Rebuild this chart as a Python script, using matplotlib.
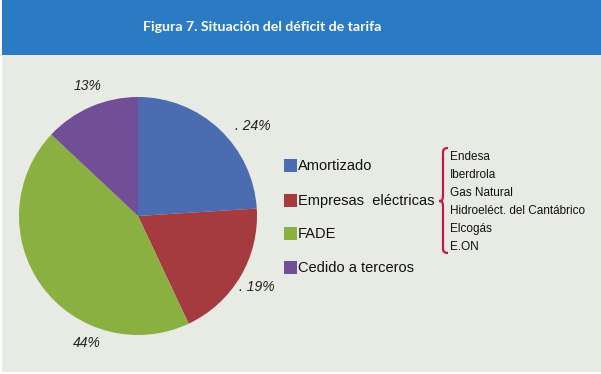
import matplotlib.pyplot as plt
from matplotlib.patches import Rectangle, PathPatch
from matplotlib.path import Path

# Datos de la figura
categorias = ['Amortizado', 'Empresas  eléctricas', 'FADE', 'Cedido a terceros']
valores = [24, 19, 44, 13]
colores = ['#4B6CB0', '#A53A3F', '#8BB042', '#724E96']
empresas = ['Endesa', 'Iberdrola', 'Gas Natural', 'Hidroeléct. del Cantábrico',
            'Elcogás', 'E.ON']
titulo = 'Figura 7. Situación del déficit de tarifa'

W, H = 601, 374
fig = plt.figure(figsize=(W / 100, H / 100), dpi=100)
fig.patch.set_facecolor('white')

# Capa de fondo en pixeles
bg = fig.add_axes([0, 0, 1, 1])
bg.set_xlim(0, W)
bg.set_ylim(H, 0)
bg.axis('off')

bg.add_patch(Rectangle((2, 55), W - 2, 317, facecolor='#E8EBE4', edgecolor='none'))
bg.add_patch(Rectangle((2, 0), W - 2, 55, facecolor='#2B7BC4', edgecolor='none'))
bg.text(262, 27, titulo, color='white', fontsize=10.2, fontweight='bold',
        family=['Lato', 'DejaVu Sans'], ha='center', va='center')

# Tarta
cx, cy, r = 138, 216, 119
ax = fig.add_axes([(cx - r) / W, (H - cy - r) / H, 2 * r / W, 2 * r / H])
ax.pie(valores, colors=colores, startangle=90, counterclock=False,
       wedgeprops=dict(linewidth=0))
ax.set_xlim(-1, 1)
ax.set_ylim(-1, 1)
ax.axis('off')

# Etiquetas de porcentaje (posicion, alineacion, con punto de guia)
etiq_pos = [(235, 126, 'left', True), (239, 287, 'left', True),
            (87, 343, 'center', False), (88, 86, 'center', False)]
for v, (x, y, ha, punto) in zip(valores, etiq_pos):
    txt = ('. ' if punto else '') + f'{v}%'
    bg.text(x, y, txt, fontsize=10, style='italic', color='#222222',
            family=['Liberation Sans', 'DejaVu Sans'], ha=ha, va='center')

# Leyenda
ley_y = [165, 200, 233, 267]
fuente = ['Liberation Sans', 'DejaVu Sans']
for cat, col, y in zip(categorias, colores, ley_y):
    bg.add_patch(Rectangle((284, y - 6.5), 13, 13, facecolor=col, edgecolor='none'))
    bg.text(298, y + 0.5, cat, fontsize=10.5, family=fuente, color='#111111',
            ha='left', va='center')

# Llave
bx, top, bot, mid = 448, 148, 253, 201
verts = [(bx, top), (443, top), (443, top + 4), (443, mid - 8),
         (443, mid - 2), (443, mid), (439, mid),
         (443, mid), (443, mid + 2), (443, mid + 8),
         (443, bot - 4), (443, bot), (bx, bot)]
codes = [Path.MOVETO, Path.CURVE3, Path.CURVE3, Path.LINETO,
         Path.CURVE4, Path.CURVE4, Path.CURVE4,
         Path.CURVE4, Path.CURVE4, Path.CURVE4,
         Path.LINETO, Path.CURVE3, Path.CURVE3]
bg.add_patch(PathPatch(Path(verts, codes), facecolor='none',
                       edgecolor='#BE1A4B', linewidth=1.6))

for i, emp in enumerate(empresas):
    bg.text(450, 157 + i * 18, emp, fontsize=8.5, family=fuente, color='#111111',
            ha='left', va='center')

fig.savefig('out.png', dpi=100)
